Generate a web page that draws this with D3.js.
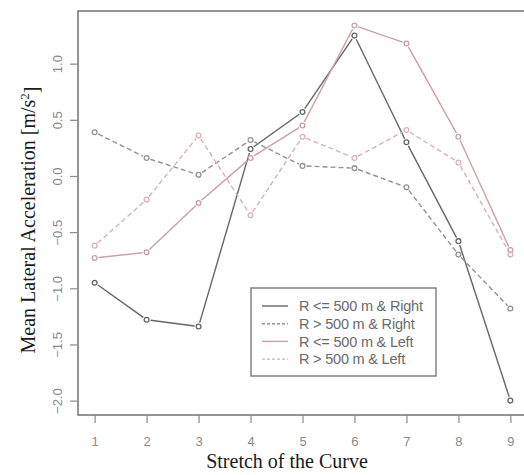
<!DOCTYPE html>
<html>
<head>
<meta charset="utf-8">
<script src="https://cdn.jsdelivr.net/npm/d3@7"></script>
<style>
  body { margin: 0; background: #fff; }
  svg { display: block; }
</style>
</head>
<body>
<svg width="524" height="475"></svg>
<script>
// stretch index on the x axis
var stretches = [1, 2, 3, 4, 5, 6, 7, 8, 9];

// mean lateral acceleration per stretch, m/s^2
var smallRight = [-0.95, -1.28, -1.34, 0.24, 0.57, 1.25, 0.30, -0.58, -2.00];
var largeRight = [0.39, 0.16, 0.01, 0.32, 0.09, 0.07, -0.10, -0.70, -1.18];
var smallLeft  = [-0.73, -0.68, -0.24, 0.16, 0.45, 1.34, 1.18, 0.35, -0.66];
var largeLeft  = [-0.62, -0.21, 0.36, -0.35, 0.35, 0.16, 0.41, 0.12, -0.70];

var seriesNames = ["R <= 500 m & Right", "R > 500 m & Right", "R <= 500 m & Left", "R > 500 m & Left"];
var yTicks = [-2.0, -1.5, -1.0, -0.5, 0.0, 0.5, 1.0];

var series = [
  { name: seriesNames[0], values: smallRight, color: "#666666", dash: null },
  { name: seriesNames[1], values: largeRight, color: "#939393", dash: "5,3" },
  { name: seriesNames[2], values: smallLeft,  color: "#c8a1a6", dash: null },
  { name: seriesNames[3], values: largeLeft,  color: "#d6b3b7", dash: "5,3" }
];

var svg = d3.select("svg");
var box = { left: 78, top: 11, right: 527, bottom: 415 };

var x = d3.scaleLinear().domain([0.68, 9.32]).range([box.left, box.right]);
var y = d3.scaleLinear().domain([-2.128, 1.469]).range([box.bottom, box.top]);

// plot frame
svg.append("rect")
  .attr("x", box.left).attr("y", box.top)
  .attr("width", box.right - box.left).attr("height", box.bottom - box.top)
  .attr("fill", "none").attr("stroke", "#7a7a7a").attr("stroke-width", 1.6);

// x axis
var xAxis = svg.append("g")
  .attr("transform", "translate(0," + box.bottom + ")")
  .call(d3.axisBottom(x).tickValues(stretches).tickFormat(d3.format("d")).tickSize(8).tickPadding(14));
xAxis.select(".domain").remove();

// y axis, labels parallel to the axis like R
var yAxis = svg.append("g")
  .attr("transform", "translate(" + box.left + ",0)")
  .call(d3.axisLeft(y).tickValues(yTicks).tickFormat(d3.format(".1f")).tickSize(8));
yAxis.select(".domain").remove();
yAxis.selectAll("text")
  .attr("x", null).attr("dy", null)
  .attr("text-anchor", "middle")
  .attr("transform", function() { return "translate(-21,0) rotate(-90)"; })
  .attr("dy", "0.35em");

svg.selectAll(".tick line").attr("stroke", "#8a8a8a").attr("stroke-width", 1.2);
svg.selectAll(".tick text")
  .attr("fill", "#8a8a8a")
  .style("font-family", "'Liberation Sans', Arial, sans-serif")
  .style("font-size", "13px");

// lines with small gaps around the points (type = "b")
var gap = 4;
series.forEach(function(s) {
  var pts = s.values.map(function(v, i) { return [x(stretches[i]), y(v)]; });
  var segs = d3.pairs(pts).map(function(p) {
    var dx = p[1][0] - p[0][0], dy = p[1][1] - p[0][1];
    var len = Math.sqrt(dx * dx + dy * dy);
    var ux = dx / len, uy = dy / len;
    return [[p[0][0] + ux * gap, p[0][1] + uy * gap], [p[1][0] - ux * gap, p[1][1] - uy * gap]];
  });

  svg.append("g").selectAll("line").data(segs)
    .enter().append("line")
    .attr("x1", function(d) { return d[0][0]; })
    .attr("y1", function(d) { return d[0][1]; })
    .attr("x2", function(d) { return d[1][0]; })
    .attr("y2", function(d) { return d[1][1]; })
    .attr("stroke", s.color)
    .attr("stroke-width", 1.4)
    .attr("stroke-dasharray", s.dash);

  svg.append("g").selectAll("circle").data(s.values)
    .enter().append("circle")
    .attr("cx", function(d, i) { return x(stretches[i]); })
    .attr("cy", function(d) { return y(d); })
    .attr("r", 2.4)
    .attr("fill", "none")
    .attr("stroke", s.color)
    .attr("stroke-width", 1.3);
});

// legend
var legend = svg.append("g").attr("transform", "translate(251,288)");
legend.append("rect")
  .attr("width", 185).attr("height", 88)
  .attr("fill", "#fff").attr("stroke", "#7a7a7a").attr("stroke-width", 1.4);

var rows = legend.selectAll("g.row").data(series)
  .enter().append("g")
  .attr("transform", function(d, i) { return "translate(0," + (18 + i * 17.7) + ")"; });
rows.append("line")
  .attr("x1", 11).attr("x2", 37)
  .attr("stroke", function(d) { return d.color; })
  .attr("stroke-width", 1.4)
  .attr("stroke-dasharray", function(d) { return d.dash ? "3,2" : null; });
rows.append("text")
  .attr("x", 48).attr("dy", "0.36em")
  .attr("fill", "#6a6a6a")
  .style("font-family", "'Liberation Sans', Arial, sans-serif")
  .style("font-size", "14.5px")
  .style("letter-spacing", "-0.2px")
  .text(function(d) { return d.name; });

// axis titles
svg.append("text")
  .attr("x", 287).attr("y", 468)
  .attr("text-anchor", "middle")
  .attr("fill", "#1a1a1a")
  .style("font-family", "'Liberation Serif', 'Times New Roman', serif")
  .style("font-size", "20px")
  .text("Stretch of the Curve");

var yTitle = svg.append("text")
  .attr("transform", "translate(35,220) rotate(-90)")
  .attr("text-anchor", "middle")
  .attr("fill", "#1a1a1a")
  .style("font-family", "'Liberation Serif', 'Times New Roman', serif")
  .style("font-size", "20px");
yTitle.append("tspan").text("Mean Lateral Acceleration [m/s");
yTitle.append("tspan").attr("dy", "-0.45em").style("font-size", "13px").text("2");
yTitle.append("tspan").attr("dy", "0.45em").text("]");
</script>
</body>
</html>
